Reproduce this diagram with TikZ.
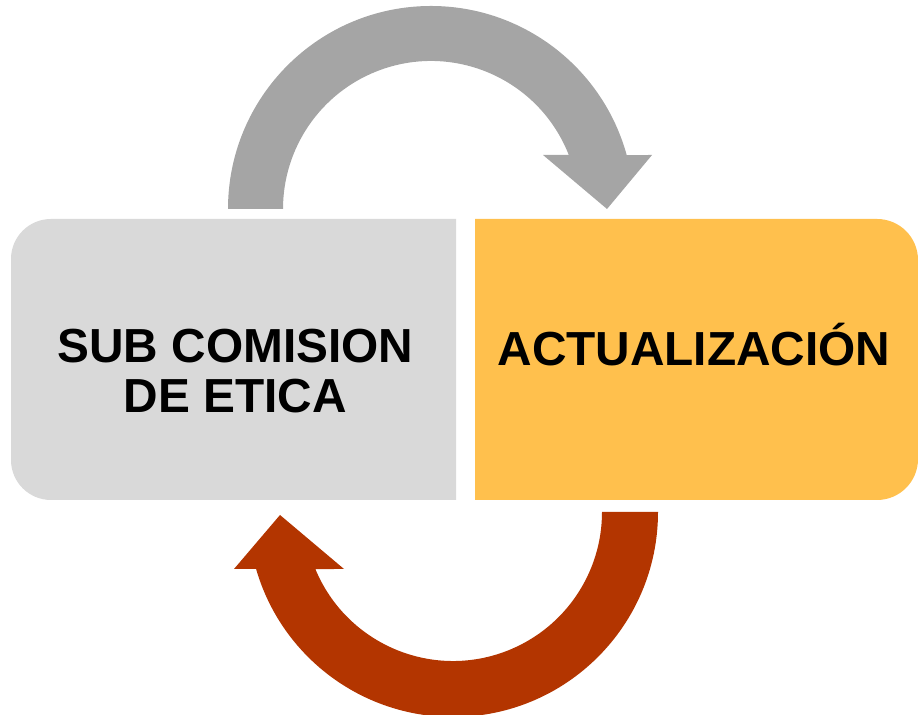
\documentclass[tikz,border=0pt]{standalone}
\usepackage{fontspec}
\setmainfont{Liberation Sans}
\usepackage{tikz}
\usetikzlibrary{calc}
\definecolor{subgray}{HTML}{D9D9D9}
\definecolor{actyellow}{HTML}{FFC04D}
\definecolor{arrowgray}{HTML}{A5A5A5}
\definecolor{arrowred}{HTML}{B33500}

\begin{document}
\begin{tikzpicture}[x=0.02cm, y=0.02cm, every node/.style={font=\bfseries\fontsize{27.2}{28.35}\selectfont, inner sep=0pt}]
        \useasboundingbox (0,0) rectangle (918,715);

        \fill[subgray] (456,496) -- (51,496) arc[start angle=90, end angle=180, radius=40]
            -- (11,255) arc[start angle=180, end angle=270, radius=40] -- (456,215) -- cycle;
        \fill[actyellow] (475,496) -- (877,496) arc[start angle=90, end angle=0, radius=41]
            -- (918,256) arc[start angle=0, end angle=-90, radius=41] -- (475,215) -- cycle;

        \node[align=center] at (235.5, 344) (sub) {SUB COMISION\\DE ETICA};
        \node[anchor=base] at (694, 349) (act) {ACTUALIZACIÓN};

        \coordinate (ctop) at (431, 506);
        \coordinate (cbot) at (453, 203);

        \fill[arrowgray] ($(ctop)+(180:203)$) arc[start angle=180, end angle=15.4, radius=203]
            -- (652,560) -- (607,506) -- (543,560)
            -- ($(ctop)+(21.4:148)$) arc[start angle=21.4, end angle=180, radius=148] -- cycle;
        \fill[arrowred] ($(cbot)+(0:205)$) arc[start angle=0, end angle=-163.9, radius=205]
            -- (234,146) -- (280,200) -- (344,146)
            -- ($(cbot)+(-157.5:149)$) arc[start angle=-157.5, end angle=0, radius=149] -- cycle;
\end{tikzpicture}
\end{document}
